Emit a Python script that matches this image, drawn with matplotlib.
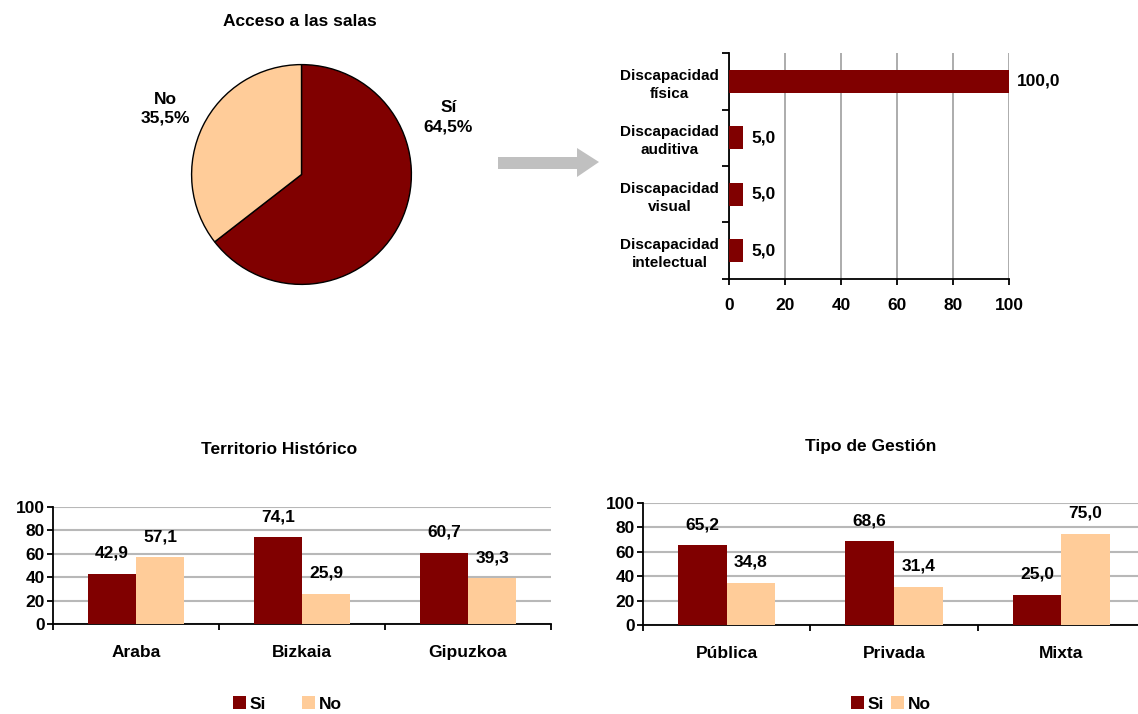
import matplotlib
matplotlib.use('Agg')
import matplotlib.pyplot as plt
import numpy as np
from matplotlib.patches import Polygon, Patch

plt.rcParams['font.family'] = ['Liberation Sans', 'DejaVu Sans']
plt.rcParams['font.weight'] = 'bold'

DARK = '#800000'
LIGHT = '#FFCC99'

# ---------------- data ----------------
pie_labels = ['Sí', 'No']
pie_values = [64.5, 35.5]

disc_categories = ['Discapacidad\nfísica', 'Discapacidad\nauditiva',
                   'Discapacidad\nvisual', 'Discapacidad\nintelectual']
disc_values = [100.0, 5.0, 5.0, 5.0]

territorio = ['Araba', 'Bizkaia', 'Gipuzkoa']
terr_si = [42.9, 74.1, 60.7]
terr_no = [57.1, 25.9, 39.3]

gestion = ['Pública', 'Privada', 'Mixta']
gest_si = [65.2, 68.6, 25.0]
gest_no = [34.8, 31.4, 75.0]

series_names = ['Si', 'No']

W, H = 1138, 714
fig = plt.figure(figsize=(W / 100, H / 100), dpi=100)


def px_axes(l, t, r, b):
    return fig.add_axes([l / W, 1 - b / H, (r - l) / W, (b - t) / H])


def fmt(v):
    return f'{v:.1f}'.replace('.', ',')


FS = 12.5

# ---------------- pie ----------------
axp = px_axes(190.5, 63.5, 412.5, 285.5)
axp.pie(pie_values, colors=[DARK, LIGHT], startangle=90, counterclock=False,
        wedgeprops=dict(edgecolor='black', linewidth=1.0))
axp.set_xlim(-1.01, 1.01)
axp.set_ylim(-1.01, 1.01)
axp.set_aspect('equal')
label_pos = {'Sí': (1.338, 0.518), 'No': (-1.239, 0.599)}
for name, val in zip(pie_labels, pie_values):
    x, y = label_pos[name]
    axp.text(x, y, f'{name}\n{fmt(val)}%', ha='center', va='center',
             fontsize=FS, linespacing=1.35, clip_on=False)
fig.text(300 / W, 1 - 21 / H, 'Acceso a las salas', ha='center', va='center',
         fontsize=FS)

# ---------------- arrow ----------------
arrow_px = [(498, 157), (577, 157), (577, 148), (599, 162), (577, 177),
            (577, 169), (498, 169)]
arrow = Polygon([(x / W, 1 - y / H) for x, y in arrow_px], closed=True,
                facecolor='#c0c0c0', edgecolor='none', transform=fig.transFigure)
fig.patches.append(arrow)

# ---------------- horizontal bars ----------------
axh = px_axes(729, 53, 1009, 279)
yy = np.arange(len(disc_categories))
axh.barh(yy, disc_values, height=0.41, color=DARK, zorder=3)
axh.set_xlim(0, 100)
axh.set_ylim(len(disc_categories) - 0.5, -0.5)
axh.set_xticks(np.arange(0, 101, 20))
axh.xaxis.grid(True, color='#a6a6a6', linewidth=1.3, zorder=0)
axh.set_axisbelow(True)
for s in ['top', 'right']:
    axh.spines[s].set_visible(False)
for s in ['left', 'bottom']:
    axh.spines[s].set_linewidth(1.3)
axh.set_yticks(np.arange(-0.5, len(disc_categories), 1.0))
axh.set_yticklabels([])
axh.set_yticks(yy, minor=True)
axh.set_yticklabels(disc_categories, minor=True, fontsize=11,
                    linespacing=1.35, multialignment='center')
axh.tick_params(axis='y', which='major', length=5, width=1.3, direction='out')
axh.tick_params(axis='y', which='minor', length=0, pad=7)
axh.tick_params(axis='x', length=4, width=1.3, pad=10, labelsize=FS)
for i, v in enumerate(disc_values):
    axh.annotate(fmt(v), xy=(v, i), xytext=(8, 0), textcoords='offset pixels',
                 ha='left', va='center', fontsize=FS, annotation_clip=False)


# ---------------- grouped bars ----------------
def grouped(ax, cats, si, no):
    x = np.arange(len(cats))
    w = 0.29
    b1 = ax.bar(x - w / 2, si, w, color=DARK, label=series_names[0], zorder=3)
    b2 = ax.bar(x + w / 2, no, w, color=LIGHT, label=series_names[1], zorder=3)
    ax.set_xlim(-0.5, len(cats) - 0.5)
    ax.set_ylim(0, 100)
    ax.set_yticks(np.arange(0, 101, 20))
    ax.yaxis.grid(True, color='#b8b8b8', linewidth=1.5, zorder=0)
    ax.set_axisbelow(True)
    for s in ['top', 'right']:
        ax.spines[s].set_visible(False)
    for s in ['left', 'bottom']:
        ax.spines[s].set_linewidth(1.3)
    ax.set_xticks(np.arange(-0.5, len(cats), 1.0))
    ax.set_xticklabels([])
    ax.set_xticks(x, minor=True)
    ax.set_xticklabels(cats, minor=True, fontsize=FS)
    ax.tick_params(axis='x', which='major', length=4, width=1.3, direction='out')
    ax.tick_params(axis='x', which='minor', length=0, pad=15)
    ax.tick_params(axis='y', length=4, width=1.3, pad=2, labelsize=FS)
    for bars, vals in ((b1, si), (b2, no)):
        for rect, v in zip(bars, vals):
            ax.annotate(fmt(v), xy=(rect.get_x() + rect.get_width() / 2, v),
                        xytext=(0, 16), textcoords='offset pixels',
                        ha='center', va='baseline', fontsize=FS,
                        annotation_clip=False)


axl = px_axes(53, 507, 551, 624)
grouped(axl, territorio, terr_si, terr_no)
axr = px_axes(643, 503, 1145, 625)
grouped(axr, gestion, gest_si, gest_no)

fig.text(279 / W, 1 - 449 / H, 'Territorio Histórico', ha='center',
         va='center', fontsize=FS)
fig.text(871 / W, 1 - 446 / H, 'Tipo de Gestión', ha='center', va='center',
         fontsize=FS)

handles = [Patch(facecolor=DARK, label=series_names[0]),
           Patch(facecolor=LIGHT, label=series_names[1])]
for ax, cx, cs in ((axl, 287, 2.1), (axr, 891, 0.4)):
    ax.legend(handles=handles, ncol=2, loc='center',
              bbox_to_anchor=(cx / W, 1 - 704 / H),
              bbox_transform=fig.transFigure, frameon=False,
              handlelength=0.75, handleheight=0.75, handletextpad=0.2,
              columnspacing=cs, borderpad=0, borderaxespad=0, fontsize=FS)

fig.savefig('out.png', dpi=100)
